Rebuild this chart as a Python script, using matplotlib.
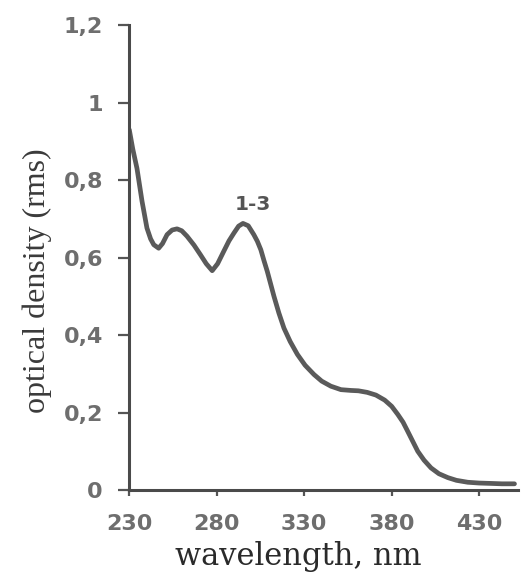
import matplotlib
matplotlib.use("Agg")
import matplotlib.pyplot as plt

wavelength = [230, 232, 234.4, 237.3, 240.1, 242.2, 244, 246.8, 249, 251.6, 254.5, 257.3, 260, 263, 267,
              270.7, 274, 277.4, 280.5, 284, 287, 289.8, 292.5, 295, 298, 301.2, 303.2, 305.2, 307, 308.9,
              312.7, 315.5, 318.4, 322, 326.1, 330.5, 335.6, 340, 345.2, 351, 356.6, 361, 366, 371, 376, 380,
              383.5, 386.5, 389.1, 392, 394.9, 398.5, 402.5, 407, 412.1, 417, 423.5, 430, 436.9, 443, 450.2]
density = [0.93, 0.88, 0.83, 0.745, 0.676, 0.648, 0.633, 0.624, 0.636, 0.659, 0.671, 0.674, 0.669, 0.655,
           0.632, 0.607, 0.584, 0.566, 0.584, 0.616, 0.643, 0.663, 0.681, 0.688, 0.682, 0.659, 0.642,
           0.62, 0.592, 0.564, 0.50, 0.457, 0.418, 0.383, 0.35, 0.322, 0.298, 0.281, 0.268, 0.259, 0.257,
           0.256, 0.252, 0.245, 0.232, 0.216, 0.195, 0.175, 0.152, 0.126, 0.10, 0.077, 0.057, 0.042,
           0.032, 0.025, 0.02, 0.018, 0.017, 0.016, 0.016]

xticks = [230, 280, 330, 380, 430]
yticks = [0, 0.2, 0.4, 0.6, 0.8, 1.0, 1.2]
ytick_labels = ["0", "0,2", "0,4", "0,6", "0,8", "1", "1,2"]
curve_label = "1-3"
xlabel = "wavelength, nm"
ylabel = "optical density (rms)"

fig = plt.figure(figsize=(5.32, 5.75), dpi=100)
ax = fig.add_axes([0.243, 0.1478, 0.730, 0.8087])

ax.plot(wavelength, density, color="#5a5a5a", lw=3.4, solid_capstyle="round", solid_joinstyle="round")

ax.set_xlim(230, 452)
ax.set_ylim(0, 1.2)
ax.set_xticks(xticks)
ax.set_yticks(yticks)
ax.set_yticklabels(ytick_labels)

for s in ["top", "right"]:
    ax.spines[s].set_visible(False)
for s in ["left", "bottom"]:
    ax.spines[s].set_color("#4a4a4a")
    ax.spines[s].set_linewidth(2.2)

ax.tick_params(axis="both", direction="out", color="#555555", width=1.6, labelcolor="#6e6e6e")
ax.tick_params(axis="y", length=8, pad=11)
ax.tick_params(axis="x", length=4, pad=13)
for lab in ax.get_xticklabels() + ax.get_yticklabels():
    lab.set_fontfamily("DejaVu Sans")
    lab.set_fontweight("bold")
    lab.set_fontsize(16)

ax.text(300.4, 0.738, curve_label, ha="center", va="center", fontsize=14.5, fontweight="bold",
        color="#555555", family="DejaVu Sans")

fig.text(37 / 532, 1 - 281 / 575, ylabel, rotation=90, ha="center", va="center",
         family="Liberation Serif", fontsize=23, color="#3a3a3a")
fig.text(298 / 532, 1 - 565 / 575, xlabel, ha="center", va="baseline",
         family="DejaVu Serif", fontsize=22, color="#2a2a2a")

fig.savefig("out.png", dpi=100, facecolor="white")
